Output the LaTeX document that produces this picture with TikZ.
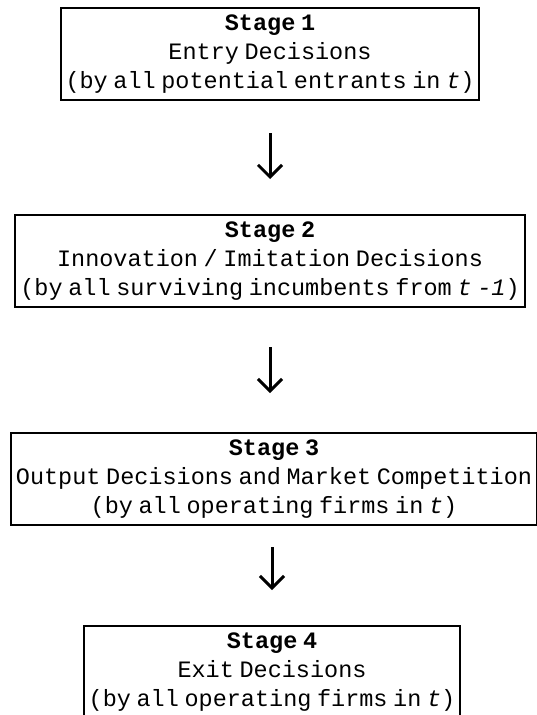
\documentclass[tikz,border=0pt]{standalone}
\usepackage{fontspec}
\setmainfont{Liberation Mono}[WordSpace=0.4]
\usetikzlibrary{
    positioning,
    arrows.meta
}

\begin{document}
\begin{tikzpicture}
[
    x=1pt,
    y=1pt,
    font=\fontsize{23.5}{29}\selectfont,
    stagebox/.style={
        rectangle,
        draw=black,
        line width=2pt,
        align=center,
        inner xsep=5pt,
        minimum height=92pt
    },
    arrow/.style={
        -{Straight Barb[length=12pt,width=24pt]},
        line width=3pt
    }
]

\useasboundingbox (0,0) rectangle (537,-715);

% =====================
% STAGES
% =====================

\node[
stagebox
]
(stage1)
at (270,-54)
{
\textbf{Stage 1}\\
Entry Decisions\\
(by all potential entrants in \textit{t})
};


\node[
stagebox,
below=113pt of stage1
]
(stage2)
{
\textbf{Stage 2}\\
Innovation / Imitation Decisions\\
(by all surviving incumbents from \textit{t -1})
};


\node[
stagebox,
below=124pt of stage2,
xshift=4pt
]
(stage3)
{
\textbf{Stage 3}\\
Output Decisions and Market Competition\\
(by all operating firms in \textit{t})
};


\node[
stagebox,
below=99pt of stage3,
xshift=-2pt
]
(stage4)
{
\textbf{Stage 4}\\
Exit Decisions\\
(by all operating firms in \textit{t})
};



% =====================
% CONNECTIONS
% =====================

\draw[arrow, shorten <=32pt, shorten >=35pt]
(stage1.south)
--
(stage2.north);


\draw[arrow, shorten <=39pt, shorten >=39pt]
(stage2.south)
--
(stage2.south |- stage3.north);


\draw[arrow, shorten <=21pt, shorten >=35pt]
(stage4.north |- stage3.south)
--
(stage4.north);


\end{tikzpicture}
\end{document}
